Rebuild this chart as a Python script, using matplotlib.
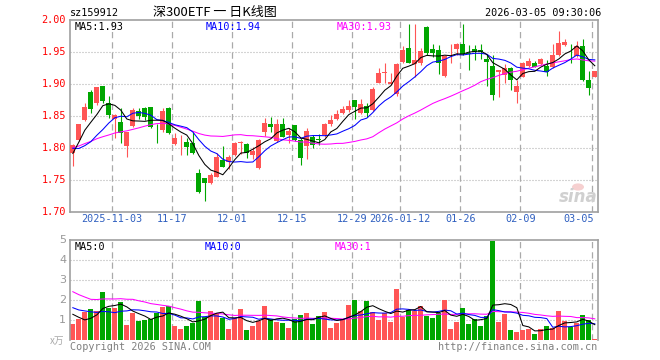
import numpy as np
import pandas as pd
import matplotlib
matplotlib.use('Agg')
import matplotlib.pyplot as plt
from matplotlib.transforms import blended_transform_factory

plt.rcParams['font.family'] = ['DejaVu Sans Mono', 'Noto Sans CJK SC']

# ---------------- data ----------------
opens = [1.793, 1.813, 1.844, 1.8885, 1.870, 1.897, 1.870, 1.846, 1.841, 1.8036,
         1.835, 1.859, 1.8625, 1.864, 1.8276, 1.8287, 1.8625, 1.8068, 1.8016, 1.8104,
         1.8089, 1.761, 1.7531, 1.7453, 1.7557, 1.7818, 1.7792, 1.7896, 1.8078, 1.8068,
         1.7896, 1.7688, 1.826, 1.838, 1.812, 1.838, 1.8208, 1.8365, 1.813, 1.8036,
         1.8182, 1.8146, 1.8208, 1.838, 1.8458, 1.8547, 1.8599, 1.8755, 1.8557, 1.8661,
         1.8599, 1.9026, 1.9177, 1.900, 1.8849, 1.9354, 1.9563, 1.9313, 1.9339, 1.989,
         1.9547, 1.9536, 1.913, 1.9469, 1.9552, 1.963, 1.949, 1.9547, 1.9536, 1.9396,
         1.9286, 1.9198, 1.9146, 1.925, 1.8885, 1.912, 1.9292, 1.9339, 1.9318, 1.9286,
         1.9276, 1.9458, 1.9615, 1.963, 1.9443, 1.9599, 1.9068, 1.912]
highs = [1.807, 1.838, 1.870, 1.891, 1.896, 1.897, 1.882, 1.853, 1.8625, 1.826,
         1.8625, 1.8625, 1.864, 1.865, 1.8375, 1.8625, 1.864, 1.8234, 1.8208, 1.8156,
         1.826, 1.7672, 1.7531, 1.761, 1.7922, 1.8036, 1.7896, 1.8104, 1.812, 1.8089,
         1.8026, 1.8146, 1.8469, 1.8495, 1.8458, 1.848, 1.8313, 1.8365, 1.8156, 1.8323,
         1.8208, 1.8224, 1.839, 1.852, 1.8599, 1.8661, 1.8755, 1.8755, 1.8766, 1.870,
         1.8964, 1.925, 1.9328, 1.9172, 1.9328, 1.9599, 1.9943, 1.9943, 1.9563, 1.9911,
         1.963, 1.9615, 1.9458, 1.963, 1.964, 1.9943, 1.9615, 1.9615, 1.963, 1.9458,
         1.9458, 1.9224, 1.9318, 1.9266, 1.9068, 1.9354, 1.9406, 1.937, 1.9417, 1.938,
         1.963, 1.9839, 1.9708, 1.963, 1.9682, 1.9703, 1.9208, 1.9208]
lows = [1.773, 1.812, 1.843, 1.855, 1.868, 1.870, 1.848, 1.8167, 1.809, 1.787,
        1.834, 1.8453, 1.844, 1.8313, 1.8089, 1.826, 1.823, 1.8052, 1.7896, 1.7896,
        1.791, 1.7297, 1.7177, 1.7443, 1.7547, 1.7714, 1.7672, 1.788, 1.7906, 1.7844,
        1.7828, 1.7672, 1.8193, 1.826, 1.8104, 1.8172, 1.8089, 1.812, 1.774, 1.7828,
        1.800, 1.8052, 1.8182, 1.8349, 1.8443, 1.8531, 1.8573, 1.8458, 1.8536, 1.8495,
        1.8589, 1.9016, 1.9016, 1.899, 1.8818, 1.9328, 1.9328, 1.9109, 1.9302, 1.9458,
        1.9422, 1.9161, 1.9109, 1.9339, 1.9458, 1.9458, 1.9224, 1.938, 1.939, 1.8974,
        1.8755, 1.8807, 1.9026, 1.8911, 1.870, 1.9109, 1.9276, 1.9266, 1.9302, 1.913,
        1.925, 1.9443, 1.9599, 1.9339, 1.9432, 1.9057, 1.8833, 1.9109]
closes = [1.805, 1.8375, 1.864, 1.862, 1.895, 1.8745, 1.852, 1.852, 1.8245, 1.826,
          1.860, 1.8505, 1.8495, 1.8328, 1.8266, 1.859, 1.8234, 1.8156, 1.8026, 1.8026,
          1.7922, 1.7313, 1.7453, 1.7583, 1.787, 1.7714, 1.786, 1.8089, 1.8094, 1.7922,
          1.7964, 1.813, 1.840, 1.8328, 1.838, 1.8182, 1.8271, 1.813, 1.7844, 1.8271,
          1.8052, 1.8135, 1.838, 1.8443, 1.8536, 1.861, 1.8661, 1.864, 1.8693, 1.8557,
          1.8927, 1.9172, 1.9188, 1.9042, 1.9313, 1.9536, 1.9339, 1.938, 1.9521, 1.9484,
          1.9495, 1.9328, 1.9448, 1.9479, 1.963, 1.9474, 1.9479, 1.951, 1.951, 1.9354,
          1.8833, 1.9224, 1.925, 1.9068, 1.8974, 1.9328, 1.937, 1.9276, 1.9396, 1.9198,
          1.9458, 1.9651, 1.9667, 1.9625, 1.9599, 1.9068, 1.8948, 1.9208]
volumes = [0.82, 1.07, 1.42, 1.57, 1.47, 2.42, 1.62, 1.62, 1.92, 0.77,
           1.38, 0.97, 1.02, 1.07, 1.35, 1.67, 1.72, 0.72, 0.57, 0.72,
           0.87, 1.97, 1.15, 1.47, 1.33, 1.12, 0.57, 1.12, 1.57, 0.52,
           0.70, 0.97, 1.72, 1.05, 0.92, 0.87, 0.62, 1.07, 1.27, 1.37,
           0.82, 1.22, 1.42, 0.63, 0.87, 1.05, 1.77, 2.02, 1.47, 1.97,
           1.42, 1.02, 1.37, 0.92, 2.57, 1.17, 1.52, 1.48, 1.72, 1.22,
           1.12, 1.37, 2.02, 0.57, 0.92, 1.62, 0.82, 1.07, 0.72, 1.22,
           4.97, 0.92, 1.32, 0.52, 0.42, 0.52, 0.57, 0.32, 0.57, 0.72,
           0.62, 1.47, 0.97, 0.67, 0.87, 1.27, 1.02, 0.07]
# closes / volumes before the visible window, estimated from where the MA lines start
prior_closes = [1.76, 1.75, 1.76, 1.77, 1.78, 1.77, 1.76, 1.77, 1.78, 1.79,
                1.78, 1.77, 1.76, 1.78, 1.84, 1.86, 1.88, 1.89, 1.89, 1.89,
                1.84, 1.82, 1.80, 1.795, 1.785, 1.75, 1.77, 1.80, 1.835]
prior_volumes = [5.5, 5.0, 5.0, 1.8, 1.5, 1.6, 1.7, 1.5, 1.6, 1.5,
                 3.2, 2.8, 3.5, 2.6, 3.0, 2.9, 3.1, 2.7, 3.3, 2.8,
                 2.2, 1.9, 2.0, 1.8, 1.9, 1.82, 2.07, 1.17, 0.62]
tick_slots = [7, 17, 27, 37, 47, 55, 65, 75, 87]
tick_labels = ['2025-11-03', '11-17', '12-01', '12-15', '12-29', '2026-01-12',
               '01-26', '02-09', '03-05']
price_ticks = [1.70, 1.75, 1.80, 1.85, 1.90, 1.95, 2.00]
vol_ticks = [1, 2, 3, 4, 5]

# ---------------- figure ----------------
W, H = 660, 360
fig = plt.figure(figsize=(6.6, 3.6), dpi=100)
fig.patch.set_facecolor('white')


def rect(l, t, r, b):
    return [l / W, 1 - b / H, (r - l) / W, (b - t) / H]


ax = fig.add_axes(rect(70.3, 20.3, 597.5, 212.3))
axv = fig.add_axes(rect(70.3, 240.3, 597.5, 340.3))

RED = '#ff5555'
GREEN = '#00a600'
GRID = '#aaaaaa'
BORDER = '#a0a0a0'

n = len(closes)
x = np.arange(n)
o = np.array(opens); c = np.array(closes); hi = np.array(highs); lo = np.array(lows)
v = np.array(volumes)
up = c >= o
cols = np.where(up, RED, GREEN)

XL = (-0.42, 87.45)
for a in (ax, axv):
    a.set_xlim(*XL)
    a.set_xticks([]); a.set_yticks([])
    for s in tick_slots:
        a.axvline(s - 0.42, color=GRID, lw=0.9, ls=(0, (5, 3.2)), zorder=0)
    for sp in a.spines.values():
        sp.set_color(BORDER); sp.set_linewidth(1.2)
axv.spines['bottom'].set_visible(False)

ax.set_ylim(1.70, 2.00)
for p in price_ticks[1:-1]:
    ax.axhline(p, color=GRID, lw=0.8, ls=(0, (0.9, 1.8)), zorder=0)
axv.set_ylim(0, 5)
for t in vol_ticks[:-1]:
    axv.axhline(t, color=GRID, lw=0.8, ls=(0, (0.9, 1.8)), zorder=0)

# candles
ax.vlines(x, lo, hi, colors=cols, lw=0.8, zorder=2)
body_h = np.maximum(np.abs(c - o), 0.0007)
ax.bar(x, body_h, bottom=np.minimum(o, c), width=0.8, color=cols, linewidth=0, zorder=3)

# MA lines
allc = pd.Series(prior_closes + closes)
allv = pd.Series(prior_volumes + volumes)
for win, col in ((30, '#ff00ff'), (10, '#0000ff'), (5, '#000000')):
    ax.plot(x, allc.rolling(win).mean().values[-n:], color=col, lw=0.75, zorder=4)

# volume
axv.bar(x, v, width=0.8, color=cols, linewidth=0, zorder=2)
for win, col in ((30, '#ff00ff'), (10, '#0000ff'), (5, '#000000')):
    axv.plot(x, allv.rolling(win).mean().values[-n:], color=col, lw=0.75, zorder=4)

# ---------------- texts ----------------
MONO = 7.3


def ftext(px, py, s, **kw):
    fig.text(px / W, 1 - py / H, s, va='center', **kw)


tr = blended_transform_factory(ax.transAxes, ax.transData)
for p in price_ticks:
    ax.text(-0.008, p, f'{p:.2f}', transform=tr, ha='right', va='center',
            color='#ff0000', fontsize=MONO)
trv = blended_transform_factory(axv.transAxes, axv.transData)
for t in vol_ticks:
    axv.text(-0.008, t, f'{t}', transform=trv, ha='right', va='center',
             color='#999999', fontsize=8, family='DejaVu Sans')

for s, lab in zip(tick_slots, tick_labels):
    px = 70.3 + 6 * s
    if lab == '03-05':
        ftext(594, 219, lab, ha='right', color='#3060c0', fontsize=MONO)
    else:
        ftext(px, 219, lab, ha='center', color='#3060c0', fontsize=MONO)

ftext(70, 13, 'sz159912', ha='left', color='black', fontsize=MONO)
ftext(215, 12.5, '深300ETF 一 日K线图', ha='center', color='black', fontsize=9.4,
      family=['Noto Sans CJK SC', 'DejaVu Sans'])
ftext(601, 13, '2026-03-05 09:30:06', ha='right', color='black', fontsize=MONO)

ftext(75, 26.5, 'MA5:1.93', ha='left', color='black', fontsize=MONO)
ftext(206, 26.5, 'MA10:1.94', ha='left', color='#0000ff', fontsize=MONO)
ftext(337, 26.5, 'MA30:1.93', ha='left', color='#ff00ff', fontsize=MONO)

ftext(75, 246.5, 'MA5:0', ha='left', color='black', fontsize=MONO)
ftext(205, 246.5, 'MA10:0', ha='left', color='#0000ff', fontsize=MONO)
ftext(335, 246.5, 'MA30:1', ha='left', color='#ff00ff', fontsize=MONO)

ftext(64, 340.5, 'x万', ha='right', color='#aaaaaa', fontsize=7,
      family=['Noto Sans CJK SC', 'DejaVu Sans'])
ftext(70, 346.5, 'Copyright 2026 SINA.COM', ha='left', color='#808080', fontsize=MONO)
ftext(597, 346.5, 'http://finance.sina.com.cn', ha='right', color='#808080', fontsize=MONO)

# sina watermark
ftext(578, 197, 'sina', ha='center', color='#d0d0d0', fontsize=12, style='italic',
      weight='bold', family='DejaVu Sans')
fig.patches.append(plt.Circle((578 / W, 1 - 187 / H), 0.008, transform=fig.transFigure,
                              color='#f6d0d0', zorder=1))

fig.savefig('out.png', dpi=100, facecolor='white')
